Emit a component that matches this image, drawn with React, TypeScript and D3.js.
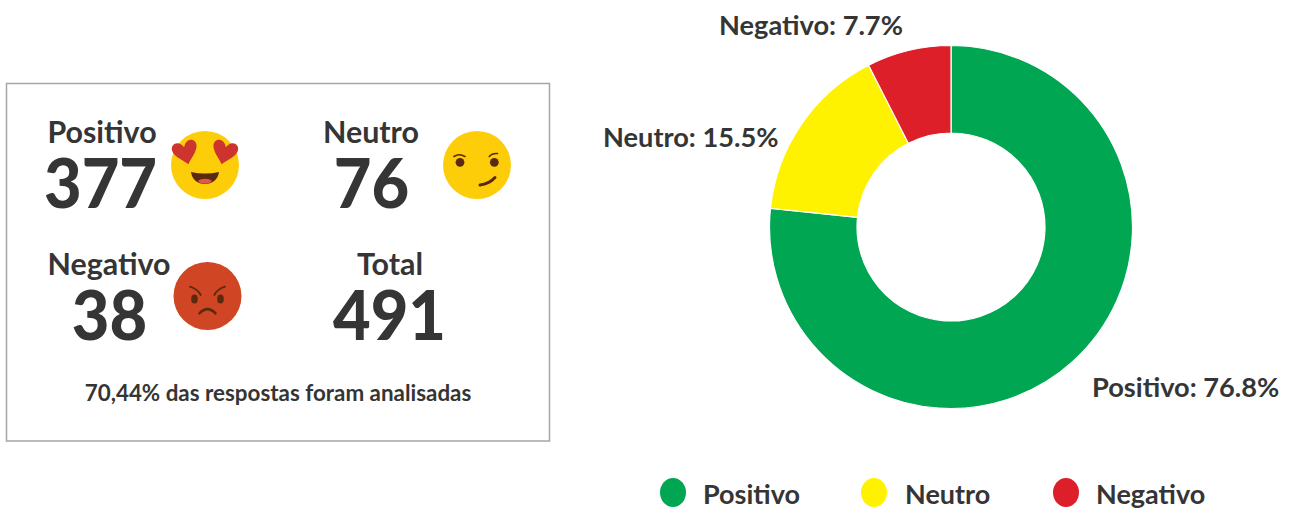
import * as d3 from "d3";

const categories = ["Positivo", "Neutro", "Negativo"];
const counts = [377, 76, 38];
const shares = ["76.8%", "15.5%", "7.7%"];
// slice sizes as measured on the drawn ring, they differ a little from the printed labels
const sliceShares = [76.64, 15.86, 7.5];
const colors = ["#00a651", "#fff200", "#dd1f2a"];
const footnote = "70,44% das respostas foram analisadas";
const total = 491;

const INK = "#353535";
const width = 1293;
const height = 510;
const cx = 951;
const cy = 227;

// label anchor spots around the donut, in the same order as categories
const labelPos = [
  { x: 1092, y: 397 },
  { x: 603, y: 147 },
  { x: 719, y: 35 },
];

const legendPos = [
  { cx: 673, tx: 703 },
  { cx: 874, tx: 905 },
  { cx: 1066, tx: 1096 },
];

const statCards = [
  { label: categories[0], value: counts[0], lx: 102, ly: 143, vx: 100.5, vy: 208 },
  { label: categories[1], value: counts[1], lx: 371, ly: 143, vx: 371.5, vy: 208 },
  { label: categories[2], value: counts[2], lx: 109, ly: 275, vx: 109.5, vy: 340 },
  { label: "Total", value: total, lx: 390, ly: 275, vx: 389.5, vy: 340 },
];

const heart = "M0 12 C-3 8 -11.5 2 -12.5 -4.5 C-13 -10 -8.5 -12 -5.5 -11 C-3 -10.3 -1 -8 0 -5.5 C1 -8 3 -10.3 5.5 -11 C8.5 -12 13 -10 12.5 -4.5 C11.5 2 3 8 0 12 Z";

function HeartEyes({ x, y }: { x: number; y: number }) {
  return (
    <g transform={`translate(${x},${y})`}>
      <circle r={34} fill="#fdcd0a" />
      <path d={heart} fill="#cc342d" transform="translate(-19.5,-12.5) rotate(-14)" />
      <path d={heart} fill="#cc342d" transform="translate(19.5,-12.5) rotate(14)" />
      <path d="M-14 7 Q0 10 14 7 C13 15 7 19 0 19 C-7 19 -13 15 -14 7 Z" fill="#5b2a0e" />
      <path d="M-7 16 C-4 13 4 13 7 16 C4 19.5 -4 19.5 -7 16 Z" fill="#e2574c" />
    </g>
  );
}

function Smirk({ x, y }: { x: number; y: number }) {
  return (
    <g transform={`translate(${x},${y})`}>
      <circle r={34} fill="#fdcd0a" />
      <circle cx={-17} cy={-2.7} r={4.4} fill="#5b2a0e" />
      <circle cx={17.3} cy={-2.7} r={4.4} fill="#5b2a0e" />
      <path d="M-23 -8.5 Q-18 -12 -12 -8.5" fill="none" stroke="#5b2a0e" strokeWidth={1.6} strokeLinecap="round" />
      <path d="M12.3 -8.5 Q15 -12 20.5 -11.5" fill="none" stroke="#5b2a0e" strokeWidth={1.6} strokeLinecap="round" />
      <path d="M3 20 Q12 19 18 12.5" fill="none" stroke="#5b2a0e" strokeWidth={3} strokeLinecap="round" />
    </g>
  );
}

function Angry({ x, y }: { x: number; y: number }) {
  return (
    <g transform={`translate(${x},${y})`}>
      <circle r={34} fill="#d04523" />
      <ellipse cx={-13} cy={3} rx={3.3} ry={4.5} fill="#5b2a0e" />
      <ellipse cx={13} cy={3} rx={3.3} ry={4.5} fill="#5b2a0e" />
      <path d="M-17.5 -9.3 Q-10 -7 -6.8 -1" fill="none" stroke="#5b2a0e" strokeWidth={1.8} strokeLinecap="round" />
      <path d="M17.5 -9.3 Q10 -7 6.8 -1" fill="none" stroke="#5b2a0e" strokeWidth={1.8} strokeLinecap="round" />
      <path d="M-8 17.3 Q0 9 8 17.3" fill="none" stroke="#5b2a0e" strokeWidth={2.6} strokeLinecap="round" />
    </g>
  );
}

export default function App() {
  const pie = d3.pie<number>().sort(null).value((d) => d);
  const arc = d3.arc<d3.PieArcDatum<number>>().innerRadius(94).outerRadius(181.5);
  const slices = pie(sliceShares);

  return (
    <svg
      width={width}
      height={height}
      style={{ position: "absolute", left: 0, top: 0, fontFamily: "Lato", fontWeight: 700 }}
    >
      <rect x={6.5} y={83.5} width={543} height={357.5} fill="#fff" stroke="#a6a6a6" strokeWidth={1.5} />

      {statCards.map((d) => (
        <g key={d.label} fill={INK} textAnchor="middle">
          <text x={d.lx} y={d.ly} fontSize={30.4}>{d.label}</text>
          {/* the digits in the picture are a bit narrower than Lato here, so squeeze them to the same width */}
          <text
            x={d.vx}
            y={d.vy}
            fontSize={68}
            fontWeight={900}
            textLength={String(d.value).length * 37.7}
            lengthAdjust="spacingAndGlyphs"
          >
            {d.value}
          </text>
        </g>
      ))}

      <HeartEyes x={205} y={165} />
      <Smirk x={477} y={165} />
      <Angry x={207.5} y={296} />

      <text x={278} y={401} fontSize={22.4} fill={INK} textAnchor="middle">{footnote}</text>

      <g transform={`translate(${cx},${cy})`}>
        {slices.map((s, i) => (
          <path key={categories[i]} d={arc(s) ?? ""} fill={colors[i]} stroke="#fff" strokeWidth={1.2} />
        ))}
      </g>

      {categories.map((c, i) => (
        <text key={c} x={labelPos[i].x} y={labelPos[i].y} fontSize={27.2} fill={INK}>
          {`${c}: ${shares[i]}`}
        </text>
      ))}

      {categories.map((c, i) => (
        <g key={c}>
          <ellipse cx={legendPos[i].cx} cy={492.5} rx={13} ry={14.5} fill={colors[i]} />
          <text x={legendPos[i].tx} y={504} fontSize={27} fill={INK}>{c}</text>
        </g>
      ))}
    </svg>
  );
}
